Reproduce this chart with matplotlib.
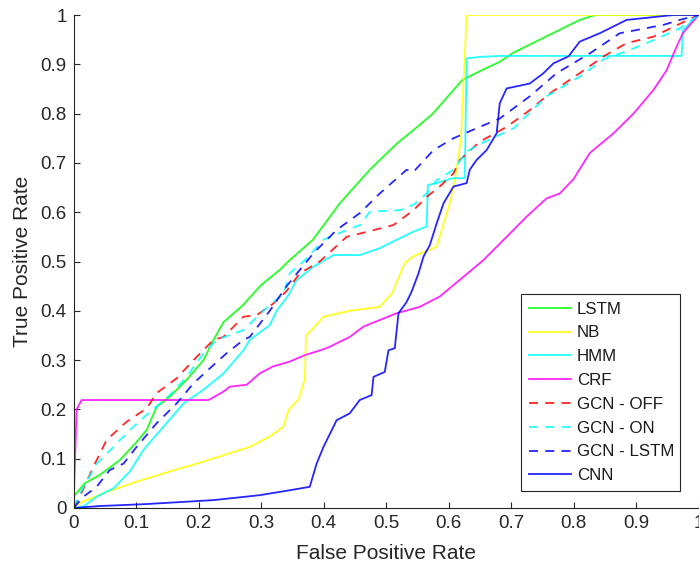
import numpy as np
import matplotlib.pyplot as plt

# curvas ROC (fpr, tpr)
lstm_x = [0, 0.018, 0.042, 0.074, 0.101, 0.117, 0.133, 0.154, 0.181, 0.208, 0.224, 0.24, 0.27, 0.30,
          0.33, 0.346, 0.383, 0.426, 0.474, 0.518, 0.55, 0.575, 0.622, 0.65, 0.682, 0.703, 0.767, 0.81, 0.835, 1.0]
lstm_y = [0.023, 0.05, 0.067, 0.097, 0.134, 0.158, 0.205, 0.226, 0.26, 0.30, 0.341, 0.377, 0.41, 0.452,
          0.483, 0.503, 0.544, 0.618, 0.686, 0.74, 0.773, 0.80, 0.868, 0.886, 0.905, 0.923, 0.963, 0.99, 1.0, 1.0]

nb_x = [0, 0.01, 0.048, 0.1, 0.154, 0.197, 0.24, 0.282, 0.314, 0.336, 0.344, 0.36, 0.37, 0.372, 0.384,
        0.40, 0.442, 0.49, 0.51, 0.53, 0.543, 0.581, 0.602, 0.613, 0.62, 0.629, 1.0]
nb_y = [0, 0.01, 0.03, 0.053, 0.074, 0.09, 0.107, 0.124, 0.145, 0.165, 0.199, 0.22, 0.26, 0.35, 0.365,
        0.388, 0.40, 0.408, 0.436, 0.497, 0.51, 0.53, 0.618, 0.686, 0.75, 1.0, 1.0]

hmm_x = [0, 0.016, 0.037, 0.064, 0.09, 0.112, 0.144, 0.176, 0.208, 0.24, 0.272, 0.282, 0.314, 0.325,
         0.343, 0.357, 0.383, 0.416, 0.458, 0.49, 0.517, 0.543, 0.565, 0.567, 0.58, 0.607, 0.626, 0.629,
         0.65, 0.682, 0.973, 0.975, 1.0]
hmm_y = [0, 0.003, 0.023, 0.04, 0.074, 0.118, 0.165, 0.212, 0.24, 0.273, 0.32, 0.341, 0.371, 0.40,
         0.43, 0.462, 0.489, 0.513, 0.513, 0.527, 0.544, 0.56, 0.571, 0.655, 0.659, 0.669, 0.669, 0.912,
         0.915, 0.917, 0.917, 0.97, 1.0]

crf_x = [0, 0.005, 0.013, 0.216, 0.24, 0.25, 0.277, 0.298, 0.319, 0.346, 0.37, 0.40, 0.41, 0.442,
         0.464, 0.517, 0.554, 0.586, 0.624, 0.656, 0.693, 0.725, 0.757, 0.778, 0.80, 0.826, 0.864,
         0.896, 0.928, 0.949, 0.965, 0.975, 1.0]
crf_y = [0, 0.2, 0.219, 0.219, 0.236, 0.246, 0.25, 0.273, 0.287, 0.297, 0.31, 0.322, 0.327, 0.347,
         0.368, 0.395, 0.408, 0.429, 0.469, 0.503, 0.55, 0.591, 0.628, 0.638, 0.667, 0.72, 0.76,
         0.80, 0.848, 0.888, 0.936, 0.963, 1.0]

gcn_off_x = [0, 0.01, 0.032, 0.053, 0.085, 0.117, 0.133, 0.165, 0.192, 0.224, 0.24, 0.272, 0.293,
             0.32, 0.341, 0.362, 0.394, 0.437, 0.469, 0.512, 0.544, 0.565, 0.586, 0.608, 0.618, 0.65,
             0.693, 0.73, 0.762, 0.81, 0.848, 0.885, 0.928, 0.96, 1.0]
gcn_off_y = [0, 0.023, 0.084, 0.138, 0.175, 0.202, 0.233, 0.263, 0.30, 0.341, 0.347, 0.388, 0.391,
             0.415, 0.44, 0.476, 0.50, 0.55, 0.56, 0.574, 0.604, 0.631, 0.652, 0.679, 0.706, 0.743,
             0.773, 0.807, 0.841, 0.882, 0.916, 0.943, 0.956, 0.976, 1.0]

gcn_on_x = [0, 0.016, 0.037, 0.064, 0.09, 0.117, 0.154, 0.181, 0.208, 0.229, 0.272, 0.304, 0.336,
            0.346, 0.373, 0.40, 0.43, 0.46, 0.474, 0.522, 0.544, 0.565, 0.581, 0.608, 0.629, 0.65,
            0.704, 0.757, 0.81, 0.848, 0.89, 0.928, 0.97, 1.0]
gcn_on_y = [0, 0.043, 0.09, 0.124, 0.158, 0.189, 0.229, 0.266, 0.314, 0.341, 0.361, 0.40, 0.435,
            0.476, 0.506, 0.544, 0.56, 0.575, 0.601, 0.604, 0.615, 0.638, 0.665, 0.686, 0.723, 0.738,
            0.77, 0.835, 0.875, 0.91, 0.929, 0.949, 0.973, 1.0]

gcn_lstm_x = [0, 0.016, 0.037, 0.058, 0.08, 0.101, 0.133, 0.165, 0.192, 0.224, 0.245, 0.272, 0.282,
              0.314, 0.341, 0.384, 0.421, 0.458, 0.49, 0.533, 0.544, 0.576, 0.608, 0.65, 0.682, 0.73,
              0.773, 0.826, 0.874, 0.944, 0.97, 1.0]
gcn_lstm_y = [0, 0.023, 0.043, 0.077, 0.09, 0.124, 0.172, 0.212, 0.253, 0.29, 0.314, 0.341, 0.347,
              0.40, 0.45, 0.517, 0.564, 0.598, 0.638, 0.686, 0.682, 0.726, 0.75, 0.773, 0.79, 0.835,
              0.882, 0.922, 0.963, 0.98, 0.99, 1.0]

cnn_x = [0, 0.042, 0.117, 0.224, 0.298, 0.346, 0.378, 0.389, 0.40, 0.421, 0.442, 0.458, 0.477, 0.48,
         0.498, 0.504, 0.514, 0.52, 0.533, 0.541, 0.552, 0.56, 0.57, 0.581, 0.592, 0.608, 0.629, 0.634,
         0.645, 0.661, 0.677, 0.682, 0.693, 0.73, 0.752, 0.768, 0.792, 0.81, 0.842, 0.885, 0.96, 1.0]
cnn_y = [0, 0.004, 0.008, 0.016, 0.026, 0.036, 0.043, 0.09, 0.124, 0.178, 0.192, 0.219, 0.229, 0.266,
         0.276, 0.32, 0.324, 0.395, 0.418, 0.439, 0.476, 0.51, 0.533, 0.577, 0.618, 0.652, 0.659, 0.686,
         0.706, 0.726, 0.76, 0.821, 0.851, 0.861, 0.882, 0.902, 0.916, 0.946, 0.963, 0.99, 1.0, 1.0]

series = [
    ("LSTM", lstm_x, lstm_y, "#00ff00", "-"),
    ("NB", nb_x, nb_y, "#ffff00", "-"),
    ("HMM", hmm_x, hmm_y, "#00ffff", "-"),
    ("CRF", crf_x, crf_y, "#ff00ff", "-"),
    ("GCN - OFF", gcn_off_x, gcn_off_y, "#ff0000", "--"),
    ("GCN - ON", gcn_on_x, gcn_on_y, "#00ffff", "--"),
    ("GCN - LSTM", gcn_lstm_x, gcn_lstm_y, "#0000ff", "--"),
    ("CNN", cnn_x, cnn_y, "#0000ff", "-"),
]

plt.rcParams['font.family'] = ['Liberation Sans', 'DejaVu Sans']
cinza = "#262626"

fig = plt.figure(figsize=(6.99, 5.71), dpi=100)
ax = fig.add_axes([73.5 / 699, 63 / 571, 625 / 699, 493 / 571])

for nome, x, y, cor, estilo in series:
    linha, = ax.plot(x, y, color=cor, linestyle=estilo, lw=1.3, label=nome, alpha=0.85)
    if estilo == "--":
        linha.set_dashes((5, 4))

ax.set_xlim(0, 1)
ax.set_ylim(0, 1)
ticks = np.arange(0, 1.01, 0.1)
labels = ["0"] + [f"{t:.1f}" for t in ticks[1:-1]] + ["1"]
ax.set_xticks(ticks)
ax.set_xticklabels(labels)
ax.set_yticks(ticks)
ax.set_yticklabels(labels)
ax.tick_params(direction="in", length=4.5, width=0.8, color=cinza, labelcolor=cinza,
               labelsize=13.5, pad=5)
for lado in ["top", "right"]:
    ax.spines[lado].set_visible(False)
for lado in ["left", "bottom"]:
    ax.spines[lado].set_color(cinza)
    ax.spines[lado].set_linewidth(0.8)

ax.set_xlabel("False Positive Rate", fontsize=15, color=cinza, labelpad=9)
ax.set_ylabel("True Positive Rate", fontsize=15, color=cinza, labelpad=6)

leg = ax.legend(loc="upper left", bbox_to_anchor=(521 / 699, 1 - 487 / 571, 159 / 699, 193 / 571),
                bbox_transform=fig.transFigure, mode="expand", borderaxespad=0,
                fontsize=12.2, handlelength=2.5, handletextpad=0.35, labelspacing=0.52,
                borderpad=0.45, fancybox=False, framealpha=1, edgecolor=cinza)
leg.get_frame().set_linewidth(0.8)
for t in leg.get_texts():
    t.set_color("#1a1a1a")

fig.savefig("out.png", dpi=100)
